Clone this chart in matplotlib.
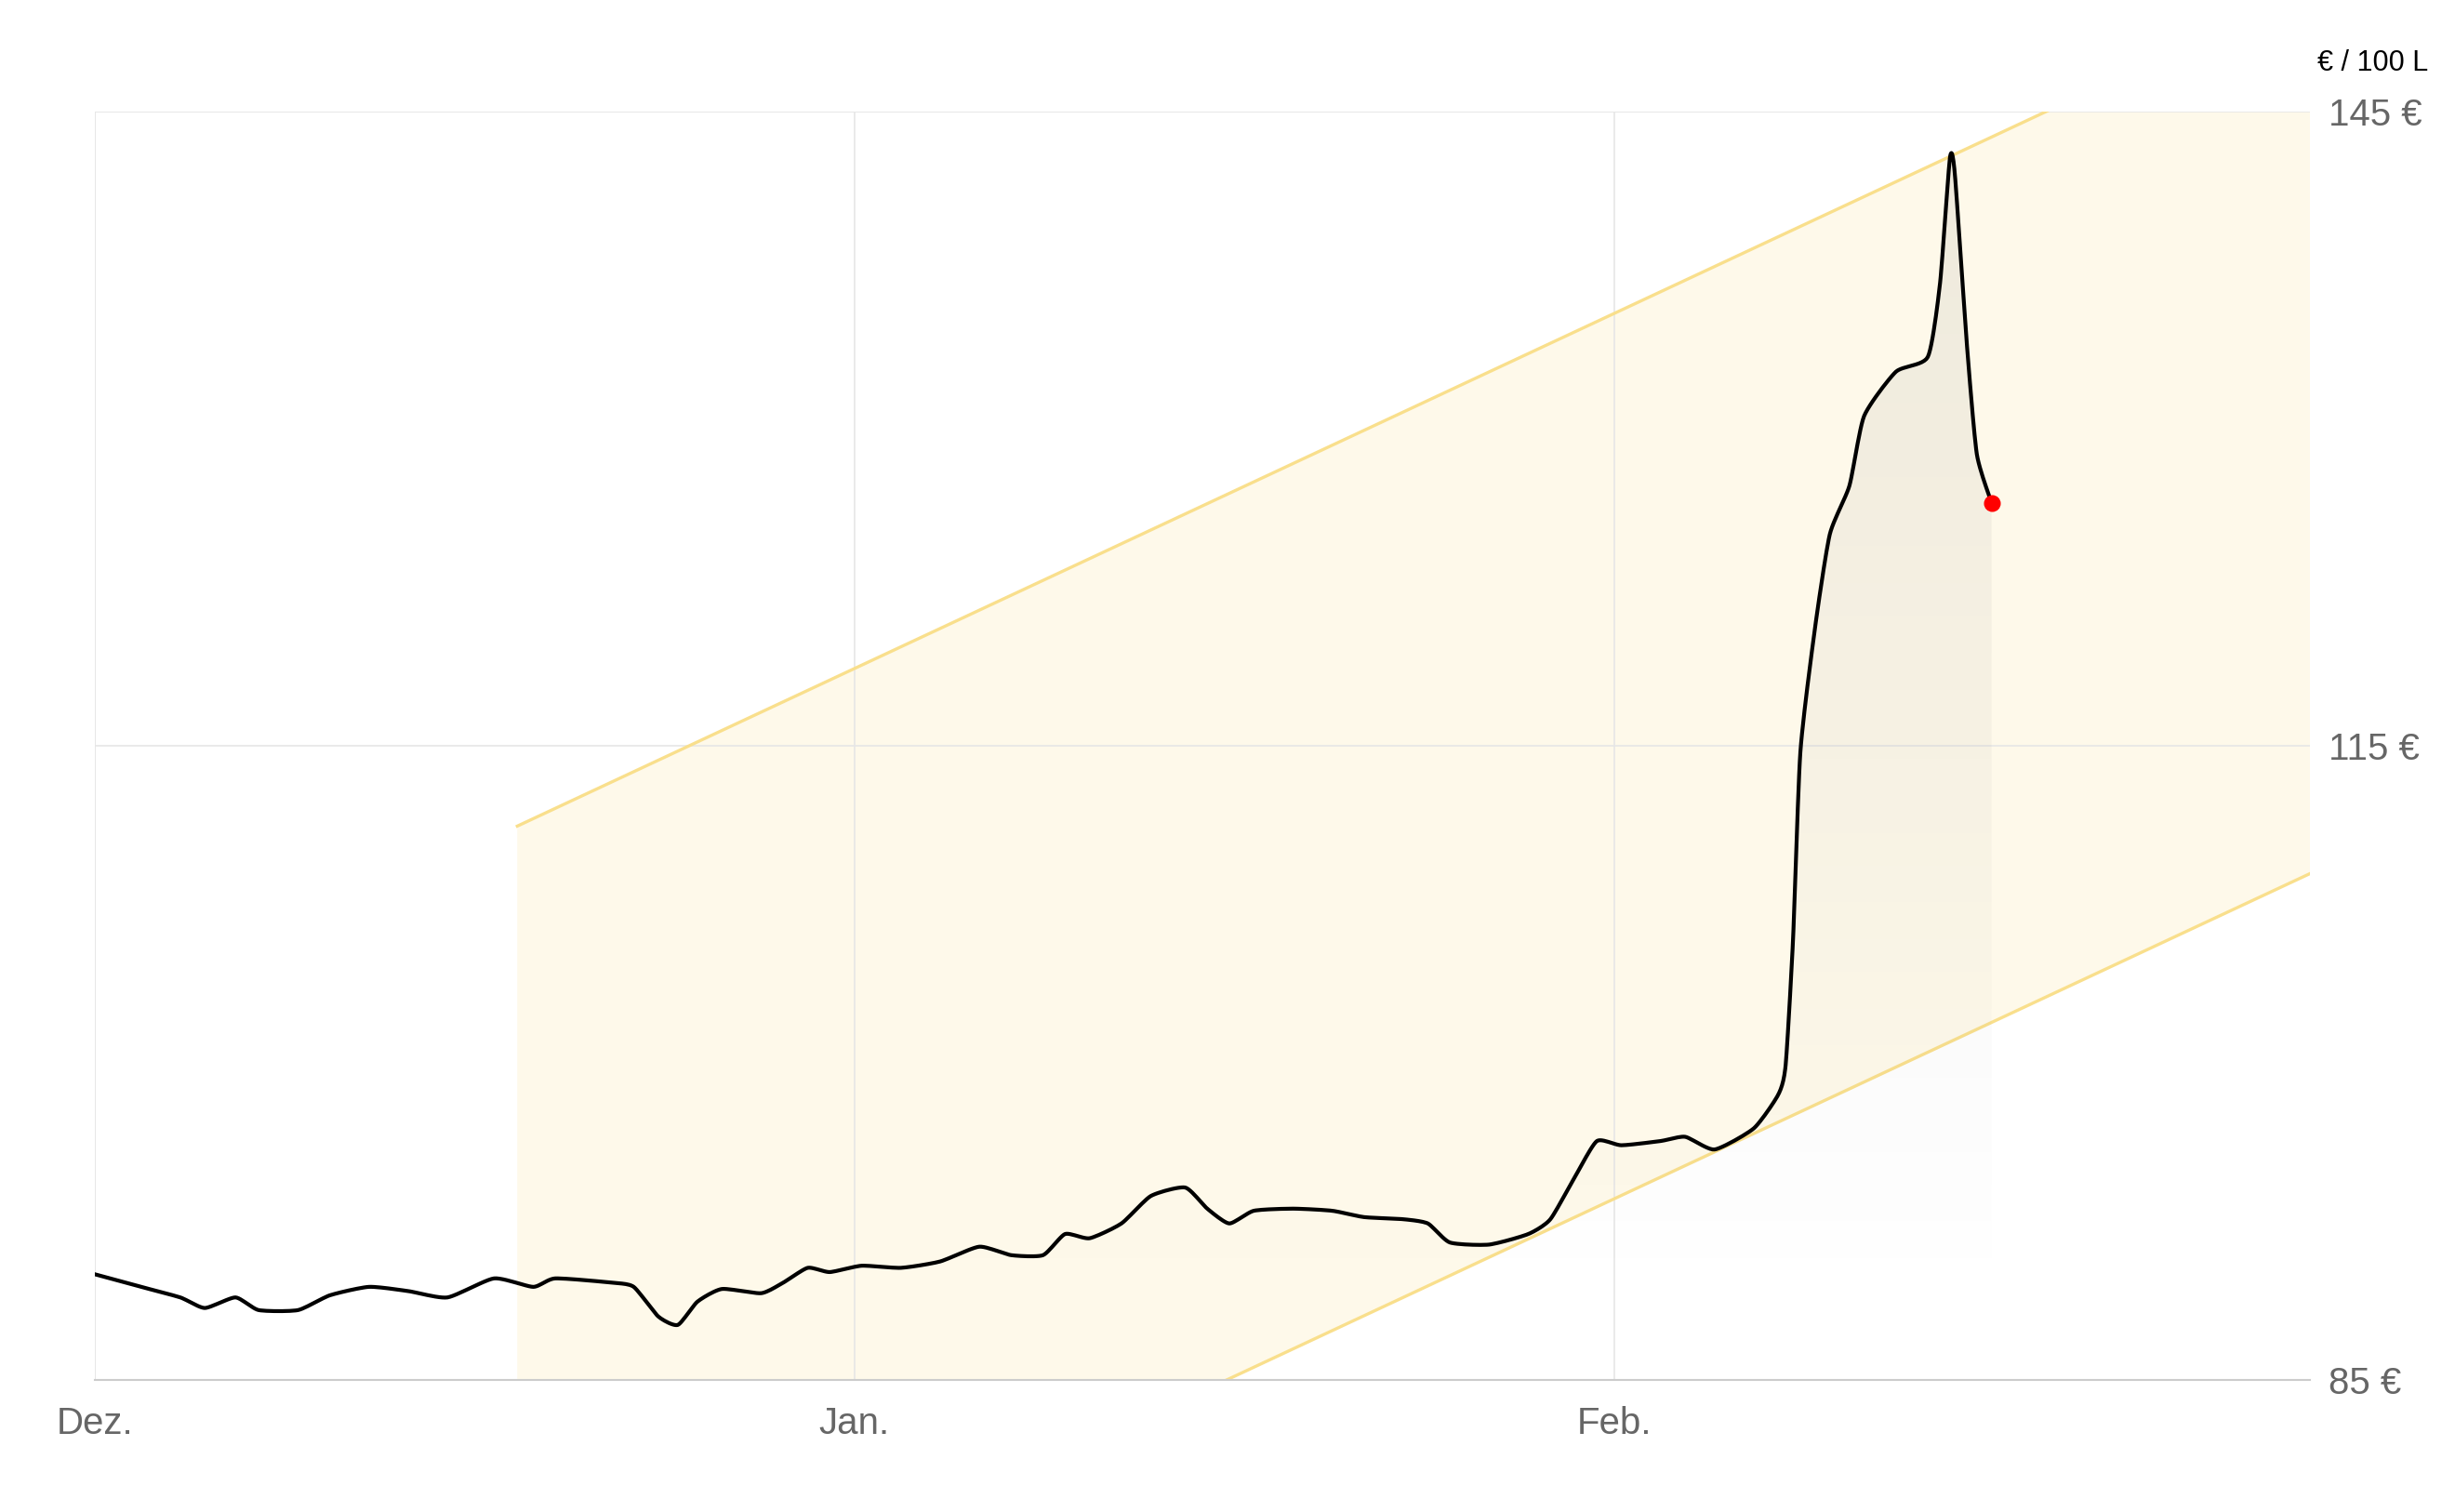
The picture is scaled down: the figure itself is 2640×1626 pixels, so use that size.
import matplotlib
matplotlib.use("Agg")
import matplotlib.pyplot as plt
import numpy as np
from matplotlib.path import Path
from matplotlib.patches import PathPatch
from matplotlib.colors import LinearSegmentedColormap

days = [0,1.9,3.5,4.5,5.75,6.7,8.3,9.6,11.2,12.8,14.4,16.3,17.9,18.8,21.1,22.0,23.0,23.8,24.6,25.6,27.2,28.1,29.1,30.0,31.3,32.9,34.5,36.1,37.4,38.7,39.6,40.6,41.9,43.1,44.5,45.4,46.3,47.3,48.9,50.5,51.8,53.4,54.4,55.3,56.9,58.5,59.4,60.4,61.3,62.3,63.9,64.9,66.1,67.7,68.7,69.0,69.3,69.6,70.2,70.8,71.6,72.2,73.5,74.8,75.3,75.7,75.9,76.4,76.8,77.4]
prices = [90.0,89.4,88.9,88.4,88.9,88.3,88.3,89.0,89.4,89.2,88.9,89.8,89.4,89.8,89.6,89.4,88.0,87.6,88.7,89.3,89.1,89.6,90.3,90.1,90.4,90.3,90.6,91.3,90.9,90.9,91.9,91.7,92.4,93.7,94.1,93.1,92.4,93.0,93.1,93.0,92.7,92.6,92.4,91.5,91.4,91.9,92.6,94.6,96.3,96.1,96.3,96.5,95.9,96.9,98.5,99.9,105.8,114.7,120.6,125.0,127.3,130.6,132.7,133.4,136.9,142.8,142.1,133.9,128.8,126.5]
band_x = [17.25, 90.4]
band_upper = [111.2, 111.2 + 0.542*(90.4-17.25)]
band_lower = [85 - 0.542*(46.2-17.25), 85 + 0.542*(90.4-46.2)]
tick_days = [0, 31, 62]
tick_labels = ["Dez.", "Jan.", "Feb."]
y_ticks = [85, 115, 145]

def smooth(x, y, n=12):
    # Catmull-Rom style smoothing of the drawn curve through the data points
    x = np.asarray(x, float); y = np.asarray(y, float)
    P = np.column_stack([x, y])
    P = np.vstack([P[0], P, P[-1]])
    out = []
    t = np.linspace(0, 1, n, endpoint=False)[:, None]
    for i in range(1, len(P) - 2):
        p0, p1, p2, p3 = P[i-1], P[i], P[i+1], P[i+2]
        m1 = (p2 - p0) / 2 * 0.6; m2 = (p3 - p1) / 2 * 0.6
        h00 = 2*t**3 - 3*t**2 + 1; h10 = t**3 - 2*t**2 + t
        h01 = -2*t**3 + 3*t**2; h11 = t**3 - t**2
        out.append(h00*p1 + h10*m1 + h01*p2 + h11*m2)
    out.append(P[-2][None, :])
    S = np.vstack(out)
    return S[:, 0], S[:, 1]

sx, sy = smooth(days, prices)

plt.rcParams['font.family'] = ['Liberation Sans', 'DejaVu Sans']
fig = plt.figure(figsize=(26.4, 16.26), dpi=100)
ax = fig.add_axes([0.0385, 0.0874, 0.9025, 0.8387])
ax.set_xlim(0, 90.4)
ax.set_ylim(85, 145)

ax.fill_between(band_x, band_lower, band_upper, color='#fef9ea', zorder=1, lw=0)
ax.plot(band_x, band_upper, color='#f9df8c', lw=2.4, zorder=2)
ax.plot(band_x, band_lower, color='#f9df8c', lw=2.4, zorder=2)

grad = np.linspace(0, 1, 256).reshape(-1, 1)
cmap = LinearSegmentedColormap.from_list('g', [(0.5,0.5,0.5,0.0),(0.5,0.5,0.5,0.13)])
im = ax.imshow(grad, extent=[0, days[-1], 89, 145], origin='lower', aspect='auto', cmap=cmap, zorder=2)
verts = list(zip(sx, sy)) + [(days[-1], 89), (0, 89), (sx[0], sy[0])]
poly = PathPatch(Path(verts), transform=ax.transData, facecolor='none', edgecolor='none')
ax.add_patch(poly)
im.set_clip_path(poly)

ax.plot(sx, sy, color='black', lw=3, zorder=4, solid_joinstyle='round')
ax.plot(days[-1], prices[-1], 'o', color='#ff0000', ms=12, zorder=5)

ax.set_xticks(tick_days)
ax.set_xticklabels(tick_labels)
ax.set_yticks(y_ticks)
ax.set_yticklabels([f"{v} €" for v in y_ticks])
ax.yaxis.tick_right()
ax.tick_params(length=0, labelsize=29, labelcolor='#666666')
ax.tick_params(axis='x', pad=20)
ax.tick_params(axis='y', pad=14)
ax.grid(True, color='#e6e6e6', lw=1.2, zorder=0)
for s in ['top', 'left', 'right']:
    ax.spines[s].set_visible(False)
ax.spines['bottom'].set_color('#cccccc')
ax.spines['bottom'].set_linewidth(1.5)
ax.axvline(0, color='#eeeeee', lw=1.2, zorder=0)
ax.axhline(145, color='#eeeeee', lw=1.2, zorder=0)
fig.text(0.989, 0.958, "€ / 100 L", ha='right', va='center', fontsize=22, color='black')
fig.savefig("out.png", dpi=100, facecolor='white')
